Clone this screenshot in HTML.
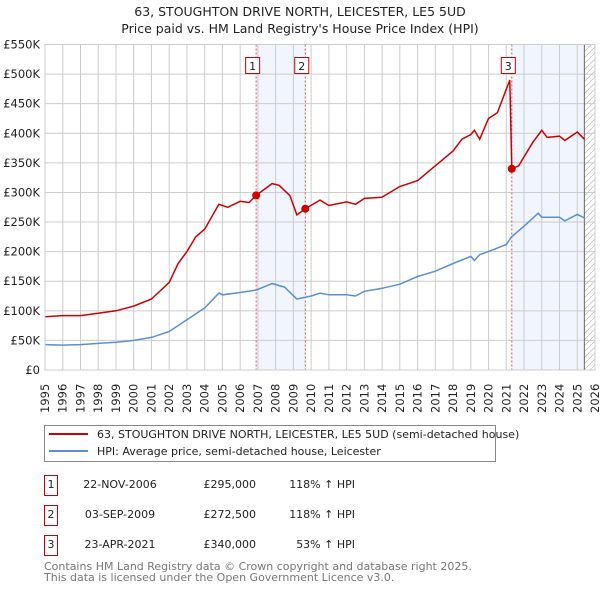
<!DOCTYPE html>
<html><head><meta charset="utf-8"><style>
body{margin:0;background:#fff;font-family:"Liberation Sans","DejaVu Sans",sans-serif}
svg text{font-family:"DejaVu Sans","Liberation Sans",sans-serif}
</style></head><body>
<svg id="c" width="600" height="590" xmlns="http://www.w3.org/2000/svg">
<text x="300" y="16" text-anchor="middle" font-size="12.5" fill="#222">63, STOUGHTON DRIVE NORTH, LEICESTER, LE5 5UD</text>
<text x="300" y="33" text-anchor="middle" font-size="12.5" fill="#222">Price paid vs. HM Land Registry's House Price Index (HPI)</text>
<g id="plot"></g>
<g>
<rect x="44.5" y="425.5" width="451" height="36" fill="#fff" stroke="#888"/>
<line x1="49" y1="434" x2="88" y2="434" stroke="#cc0000" stroke-width="2"/>
<text x="97" y="438" font-size="11" fill="#222">63, STOUGHTON DRIVE NORTH, LEICESTER, LE5 5UD (semi-detached house)</text>
<line x1="49" y1="451" x2="88" y2="451" stroke="#5b8fd4" stroke-width="2"/>
<text x="97" y="455" font-size="11" fill="#222">HPI: Average price, semi-detached house, Leicester</text>
</g>
<g font-size="11" fill="#222">
<rect x="44.5" y="475.5" width="13" height="20" fill="#fff" stroke="#cc0000"/><text x="51" y="488" text-anchor="middle">1</text>
<text x="120" y="488" text-anchor="middle">22-NOV-2006</text><text x="256" y="488" text-anchor="end">£295,000</text><text x="355" y="488" text-anchor="end">118% ↑ HPI</text>
<rect x="44.5" y="505.5" width="13" height="20" fill="#fff" stroke="#cc0000"/><text x="51" y="518" text-anchor="middle">2</text>
<text x="120" y="518" text-anchor="middle">03-SEP-2009</text><text x="256" y="518" text-anchor="end">£272,500</text><text x="355" y="518" text-anchor="end">118% ↑ HPI</text>
<rect x="44.5" y="535.5" width="13" height="20" fill="#fff" stroke="#cc0000"/><text x="51" y="548" text-anchor="middle">3</text>
<text x="120" y="548" text-anchor="middle">23-APR-2021</text><text x="256" y="548" text-anchor="end">£340,000</text><text x="355" y="548" text-anchor="end">53% ↑ HPI</text>
</g>
<text x="44" y="570" font-size="11" fill="#777">Contains HM Land Registry data © Crown copyright and database right 2025.</text>
<text x="44" y="581" font-size="11" fill="#777">This data is licensed under the Open Government Licence v3.0.</text>
</svg>
<script>
const hpiYears=[1995,1996,1997,1998,1999,2000,2001,2002,2003,2004,2004.8,2005,2006,2006.9,2007.8,2008.5,2009.2,2010,2010.5,2011,2012,2012.5,2013,2014,2015,2016,2017,2018,2019,2019.2,2019.5,2020,2021,2021.3,2022,2022.8,2023,2024,2024.3,2025,2025.4];
const hpiValues=[43,42,43,45,47,50,55,65,85,105,130,127,131,135,146,140,120,125,130,127,127,125,133,138,145,158,167,180,192,185,195,200,212,225,243,265,258,258,252,263,257];
const propYears=[1995,1996,1997,1998,1999,2000,2001,2002,2002.5,2003,2003.5,2004,2004.8,2005.3,2006,2006.5,2006.9,2007.8,2008.2,2008.8,2009.2,2009.67,2010.5,2011,2012,2012.5,2013,2014,2015,2016,2017,2018,2018.5,2019,2019.2,2019.5,2020,2020.5,2021.2,2021.31,2021.7,2022,2022.5,2023,2023.3,2024,2024.3,2025,2025.4];
const propValues=[90,92,92,96,100,108,120,148,180,200,225,238,280,275,285,283,295,315,312,295,262,272.5,287,278,284,280,290,292,310,320,345,370,390,398,405,390,425,435,490,340,345,360,385,405,393,395,388,402,390];
const saleLabels=["1","2","3"];
const saleYears=[2006.9,2009.67,2021.31];
const saleValues=[295,272.5,340];
const yTicks=[0,50,100,150,200,250,300,350,400,450,500,550];
const yTickLabels=["£0","£50K","£100K","£150K","£200K","£250K","£300K","£350K","£400K","£450K","£500K","£550K"];
const xTicks=[];for(let y=1995;y<=2026;y++)xTicks.push(y);

const X0=45,X1=595,Y0=370,Y1=44.5;
const sx=y=>X0+(y-1995)/(2026-1995)*(X1-X0);
const sy=v=>Y0-v/550*(Y0-Y1);
const NS="http://www.w3.org/2000/svg";
const g=document.getElementById('plot');
function mk(t,a){const e=document.createElementNS(NS,t);for(const k in a)e.setAttribute(k,a[k]);g.appendChild(e);return e;}
[[saleYears[0],saleYears[1]],[saleYears[2],2025.4]].forEach(r=>{
 const e=mk('rect',{x:sx(r[0]),y:Y1,width:sx(r[1])-sx(r[0]),height:Y0-Y1,fill:'#f1f5fd'});
 
 
});
const defs=mk('defs',{});
defs.innerHTML='<pattern id="h" width="6" height="6" patternUnits="userSpaceOnUse"><path d="M0,6 L6,0" stroke="#bbb" stroke-width="0.7"/></pattern>';
const ht=mk('rect',{x:sx(2025.4),y:Y1,width:X1-sx(2025.4),height:Y0-Y1,fill:'url(#h)'});


xTicks.forEach(y=>{const l=mk('line',{x1:sx(y),x2:sx(y),y1:Y1,y2:Y0,stroke:'#ccc','stroke-width':1});
 
 
 const t=mk('text',{x:0,y:0,transform:`translate(${sx(y)+4},413) rotate(-90)`,'font-size':11.5,fill:'#222'});t.textContent=y;
 
 
});
yTicks.forEach((v,i)=>{const l=mk('line',{x1:X0,x2:X1,y1:sy(v),y2:sy(v),stroke:'#ccc','stroke-width':1});
 
 
 const t=mk('text',{x:40,y:sy(v)+4,'text-anchor':'end','font-size':11.5,fill:'#222'});t.textContent=yTickLabels[i];
 
 
});
const vl=mk('line',{x1:sx(2025.4),x2:sx(2025.4),y1:Y1,y2:Y0,stroke:'#666','stroke-width':1});


saleYears.forEach(y=>{const l=mk('line',{x1:sx(y),x2:sx(y),y1:Y1,y2:Y0,stroke:'#e05555','stroke-width':1,'stroke-dasharray':'2,2'});
 
 
});
function path(xs,vs){return xs.map((y,i)=>(i?'L':'M')+sx(y).toFixed(1)+','+sy(vs[i]).toFixed(1)).join('');}
const hp=mk('path',{d:path(hpiYears,hpiValues),fill:'none',stroke:'#5b8fd4','stroke-width':1.5});


const pp=mk('path',{d:path(propYears,propValues),fill:'none',stroke:'#cc0000','stroke-width':1.5});


saleYears.forEach((y,i)=>{
 const c=mk('circle',{cx:sx(y),cy:sy(saleValues[i]),r:4,fill:'#cc0000'});
 
 
 const bx=sx(y)-4-7;
 const r=mk('rect',{x:bx+0.5,y:57.5,width:14,height:16,fill:'#fff',stroke:'#cc0000'});
 
 
 const t=mk('text',{x:bx+7.5,y:70,'text-anchor':'middle','font-size':11,fill:'#222'});t.textContent=saleLabels[i];
 
 
});
const fr=mk('rect',{x:X0,y:Y1,width:X1-X0,height:Y0-Y1,fill:'none',stroke:'#ccc'});


</script>
</body></html>
